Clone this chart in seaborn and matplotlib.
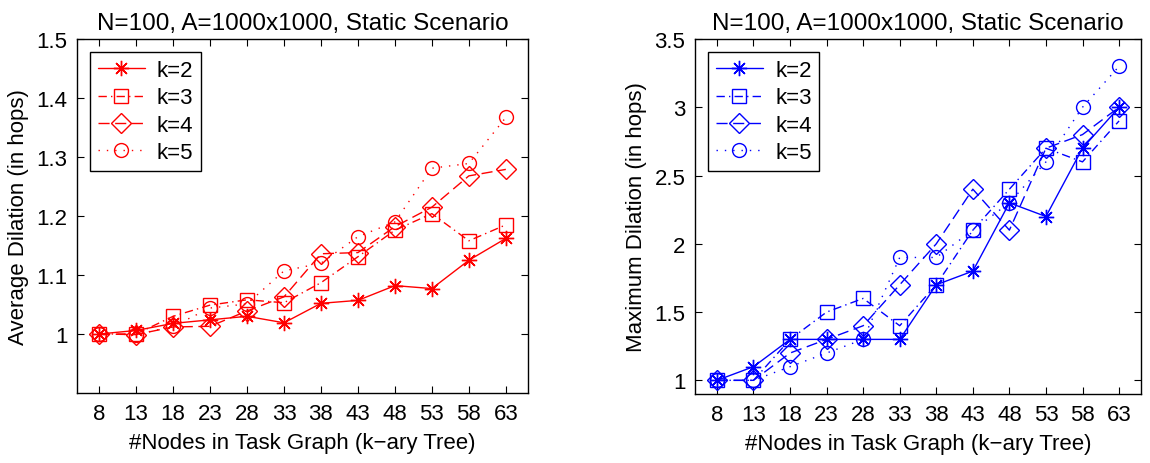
import matplotlib
matplotlib.use("Agg")
import matplotlib.pyplot as plt
import seaborn as sns
import pandas as pd

# Task-graph sizes (number of nodes in the k-ary tree)
nodes = [8, 13, 18, 23, 28, 33, 38, 43, 48, 53, 58, 63]
arity_labels = ["k=2", "k=3", "k=4", "k=5"]

# Average dilation (hops)
avg_k2 = [1.000, 1.006, 1.018, 1.024, 1.030, 1.019, 1.052, 1.057, 1.082, 1.077, 1.125, 1.162]
avg_k3 = [1.000, 1.000, 1.030, 1.049, 1.058, 1.053, 1.087, 1.131, 1.176, 1.204, 1.158, 1.185]
avg_k4 = [1.000, 0.999, 1.012, 1.013, 1.039, 1.063, 1.136, 1.138, 1.182, 1.215, 1.268, 1.279]
avg_k5 = [1.000, 0.999, 1.013, 1.044, 1.051, 1.107, 1.120, 1.165, 1.190, 1.281, 1.289, 1.367]

# Maximum dilation (hops)
max_k2 = [1.0, 1.1, 1.3, 1.3, 1.3, 1.3, 1.7, 1.8, 2.3, 2.2, 2.7, 3.0]
max_k3 = [1.0, 1.0, 1.3, 1.5, 1.6, 1.4, 1.7, 2.1, 2.4, 2.7, 2.6, 2.9]
max_k4 = [1.0, 1.0, 1.2, 1.3, 1.4, 1.7, 2.0, 2.4, 2.1, 2.7, 2.8, 3.0]
max_k5 = [1.0, 1.0, 1.1, 1.2, 1.3, 1.9, 1.9, 2.1, 2.3, 2.6, 3.0, 3.3]

title_text = "N=100, A=1000x1000, Static Scenario"
xlabel_text = "#Nodes in Task Graph (k\u2212ary Tree)"

sns.set_style("ticks")
plt.rcParams["font.family"] = ["Liberation Sans", "DejaVu Sans"]
plt.rcParams["font.size"] = 16
plt.rcParams["axes.linewidth"] = 1.0
plt.rcParams["text.color"] = "black"
plt.rcParams["axes.labelcolor"] = "black"
plt.rcParams["xtick.color"] = "black"
plt.rcParams["ytick.color"] = "black"

FS = 16
markers = [(8, 2, 0), "s", "D", "o"]
marker_sizes = [11, 10, 10, 10]
linestyles = ["-", (0, (6, 3, 1, 3)), (0, (8, 4)), (0, (1, 5))]

fig = plt.figure(figsize=(11.5, 4.64), dpi=100)
ax1 = fig.add_axes([77 / 1150, 70 / 464, 451 / 1150, 354 / 464])
ax2 = fig.add_axes([695 / 1150, 69 / 464, 446 / 1150, 355 / 464])


def draw_panel(ax, series, color, ylim, yticks, ylabel):
    for vals, lab, mk, ms, ls in zip(series, arity_labels, markers, marker_sizes, linestyles):
        df = pd.DataFrame({"nodes": nodes, "value": vals})
        sns.lineplot(
            data=df, x="nodes", y="value", ax=ax, color=color,
            marker=mk, markersize=ms, markerfacecolor="none",
            markeredgecolor=color, markeredgewidth=1.0,
            linestyle=ls, linewidth=1.0, label=lab,
        )
    ax.set_xlim(5, 66)
    ax.set_ylim(*ylim)
    ax.set_xticks(nodes)
    ax.set_yticks(yticks)
    ax.set_yticklabels([f"{t:g}" for t in yticks])
    ax.tick_params(direction="in", length=5, width=0.8, top=True, right=True,
                   labelsize=FS, colors="black", pad=7)
    for sp in ax.spines.values():
        sp.set_visible(True)
        sp.set_color("black")
    ax.set_title(title_text, fontsize=17.5, pad=7, color="black")
    ax.set_xlabel(xlabel_text, fontsize=FS, labelpad=6, color="black")
    ax.set_ylabel(ylabel, fontsize=FS, labelpad=5, color="black")
    leg = ax.legend(loc="upper left", handlelength=2.1, fontsize=FS,
                    fancybox=False, framealpha=1, edgecolor="black",
                    borderpad=0.35, labelspacing=0.28, handletextpad=0.55,
                    borderaxespad=0.6)
    leg.get_frame().set_linewidth(1.0)
    for t in leg.get_texts():
        t.set_color("black")


draw_panel(ax1, [avg_k2, avg_k3, avg_k4, avg_k5], "#ff0000",
           (0.9, 1.5), [1.0, 1.1, 1.2, 1.3, 1.4, 1.5], "Average Dilation (in hops)")
draw_panel(ax2, [max_k2, max_k3, max_k4, max_k5], "#0000ff",
           (0.9, 3.5), [1.0, 1.5, 2.0, 2.5, 3.0, 3.5], "Maximum Dilation (in hops)")

fig.savefig("out.png", dpi=100, facecolor="white")
